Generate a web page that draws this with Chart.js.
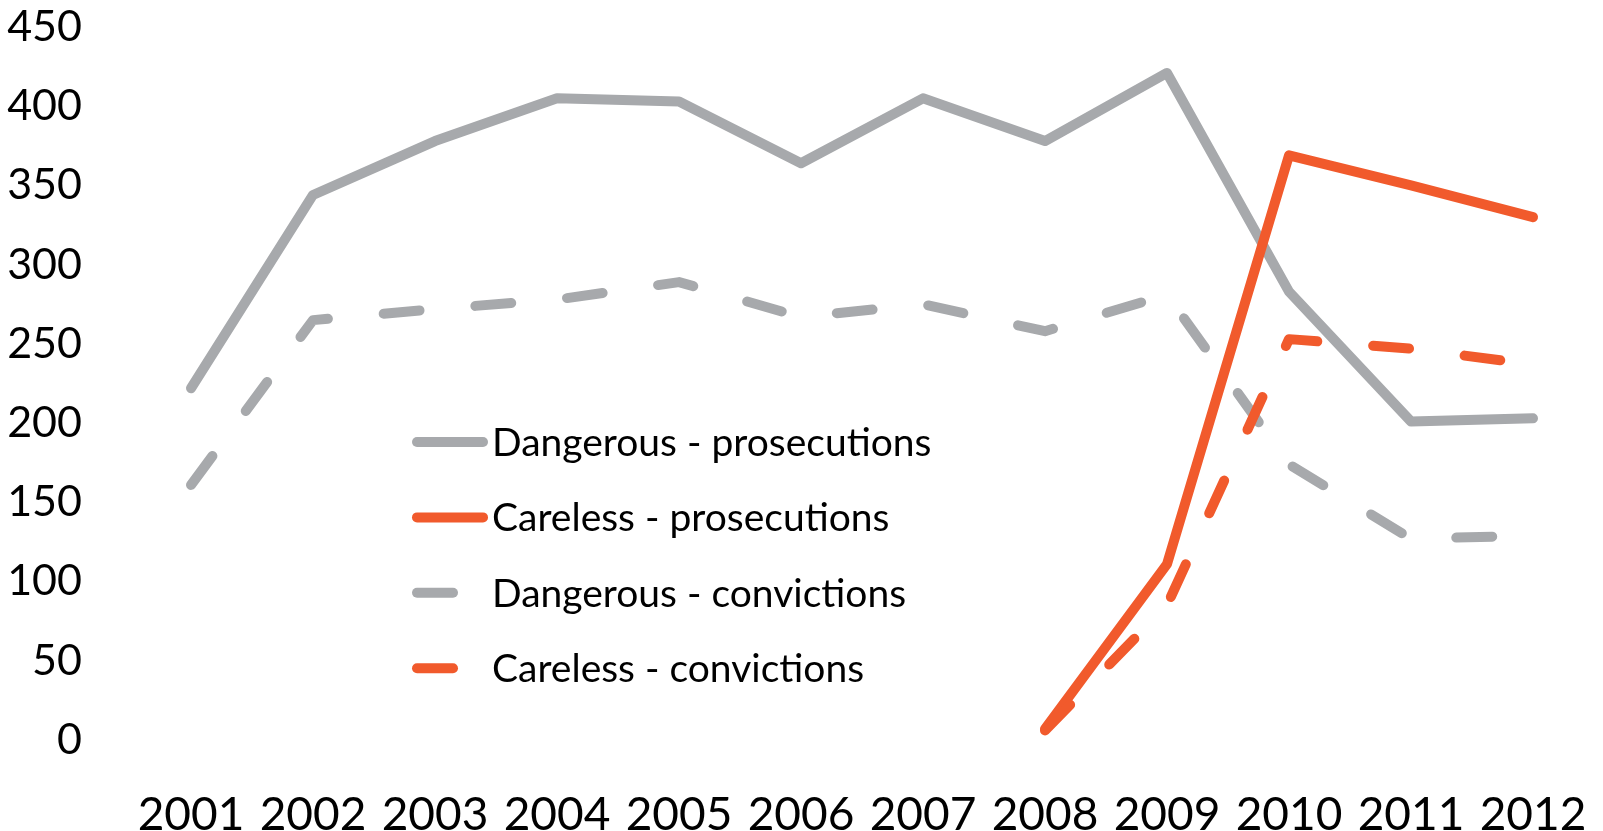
<!DOCTYPE html>
<html>
<head>
<meta charset="utf-8">
<script src="https://cdn.jsdelivr.net/npm/chart.js@4/dist/chart.umd.min.js"></script>
<style>
  body { margin: 0; background: #fff; }
  #wrap { width: 1603px; height: 831px; }
</style>
</head>
<body>
<div id="wrap"><canvas id="chart" width="1603" height="831"></canvas></div>
<script>
const years = ['2001', '2002', '2003', '2004', '2005', '2006', '2007', '2008', '2009', '2010', '2011', '2012'];
const dangerousProsecutions = [222, 344, 378, 405, 403, 364, 405, 378, 421, 283, 201, 203];
const carelessProsecutions = [null, null, null, null, null, null, null, 7, 111, 369, 350, 330];
const dangerousConvictions = [161, 265, 272, 278, 289, 267, 275, 258, 281, 174, 127, 129];
const carelessConvictions = [null, null, null, null, null, null, null, 6, 85, 253, 247, 237];
const seriesNames = ['Dangerous - prosecutions', 'Careless - prosecutions', 'Dangerous - convictions', 'Careless - convictions'];

const grey = '#A7A9AC';
const orange = '#F15A2C';
const dash = [36, 56];
const font = 'Lato';

function series(label, data, color, dashed, order) {
    return {
        label, data,
        borderColor: color,
        backgroundColor: color,
        borderWidth: 10,
        borderDash: dashed ? dash : [],
        borderCapStyle: 'round',
        borderJoinStyle: 'round',
        pointRadius: 0,
        pointHoverRadius: 0,
        tension: 0,
        fill: false,
        spanGaps: false,
        order
    };
}

// legend drawn inside the plot, like the original
const insideLegend = {
    id: 'insideLegend',
    afterDraw(chart) {
        const ctx = chart.ctx;
        const x0 = 417, rowTop = 442, rowGap = 75.4;
        ctx.save();
        chart.data.datasets.forEach((ds, i) => {
            const y = rowTop + i * rowGap;
            ctx.strokeStyle = ds.borderColor;
            ctx.lineWidth = 10;
            ctx.lineCap = 'round';
            ctx.setLineDash(ds.borderDash.length ? ds.borderDash : []);
            ctx.beginPath();
            ctx.moveTo(x0, y);
            ctx.lineTo(ds.borderDash.length ? x0 + 40 : x0 + 66, y);
            ctx.stroke();
            ctx.setLineDash([]);
            ctx.fillStyle = '#000';
            ctx.font = '39px ' + font;
            ctx.textBaseline = 'alphabetic';
            ctx.textAlign = 'left';
            ctx.fillText(ds.label, 492, y + 14);
        });
        ctx.restore();
    }
};

// keep the tick padding from pushing the plot area around
function noEdgePadding(scale) {
    scale.paddingTop = 0;
    scale.paddingBottom = 0;
    scale.paddingLeft = 0;
    scale.paddingRight = 0;
}

new Chart(document.getElementById('chart'), {
    type: 'line',
    data: {
        labels: years,
        datasets: [
            series(seriesNames[0], dangerousProsecutions, grey, false, 3),
            series(seriesNames[1], carelessProsecutions, orange, false, 2),
            series(seriesNames[2], dangerousConvictions, grey, true, 1),
            series(seriesNames[3], carelessConvictions, orange, true, 0)
        ]
    },
    options: {
        responsive: false,
        animation: false,
        devicePixelRatio: 1,
        layout: { padding: { top: 27, right: 9, bottom: 0, left: 0 } },
        plugins: {
            legend: { display: false },
            tooltip: { enabled: false }
        },
        scales: {
            x: {
                offset: true,
                grid: { display: false, drawTicks: false },
                border: { display: false },
                ticks: { color: '#000', font: { family: font, size: 46 }, padding: 48, maxRotation: 0, autoSkip: false },
                afterFit(scale) { scale.height = 91; noEdgePadding(scale); }
            },
            y: {
                min: 0,
                max: 450,
                grid: { display: false, drawTicks: false },
                border: { display: false },
                ticks: { color: '#000', stepSize: 50, font: { family: font, size: 43 }, padding: 48 },
                afterFit(scale) { scale.width = 130; noEdgePadding(scale); }
            }
        }
    },
    plugins: [insideLegend]
});
</script>
</body>
</html>
